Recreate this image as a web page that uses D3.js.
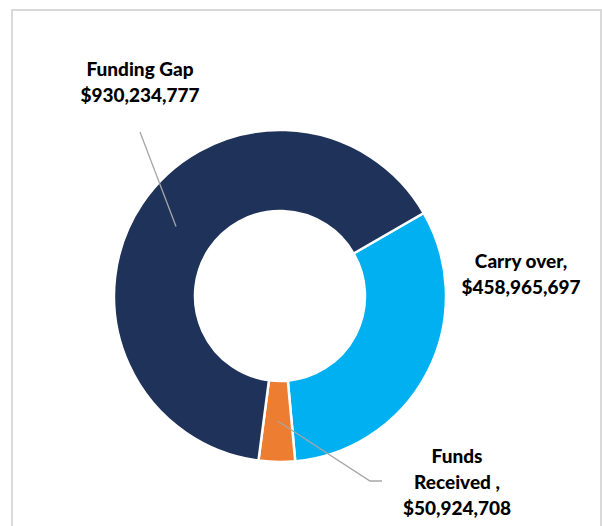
<!DOCTYPE html>
<html><head><meta charset="utf-8">
<script src="https://cdn.jsdelivr.net/npm/d3@7"></script>
<style>html,body{margin:0;padding:0;background:#fff;}svg{display:block;}</style>
</head><body>
<svg id="c" width="602" height="526"></svg>
<script>
const categories = ["Carry over", "Funds Received", "Funding Gap"];
const values = [458965697, 50924708, 930234777];
const labelLines = [["Carry over,", "$458,965,697"], ["Funds", "Received ,", "$50,924,708"], ["Funding Gap", "$930,234,777"]];
const colors = ["#00B0F0", "#ED7D31", "#1F3259"];

const svg = d3.select("#c");
svg.append("rect").attr("x", 12).attr("y", 10).attr("width", 589).attr("height", 530)
  .attr("fill", "#fff").attr("stroke", "#d9d9d9").attr("stroke-width", 2);

const cx = 280, cy = 296, R = 166, r = 85;
const start = 60 * Math.PI / 180;
const pie = d3.pie().sort(null).value(d => d.v).startAngle(start).endAngle(start + 2 * Math.PI);
const data = categories.map((c, i) => ({c, v: values[i], i}));
const arcs = pie(data);
const arc = d3.arc().innerRadius(r).outerRadius(R);
const mid = d3.arc().innerRadius(125).outerRadius(125);
const g = svg.append("g").attr("transform", `translate(${cx},${cy})`);
g.selectAll("path").data(arcs).join("path")
  .attr("d", arc).attr("fill", d => colors[d.data.i])
  .attr("stroke", "#fff").attr("stroke-width", 2.5).attr("stroke-linejoin", "round");

// label layout
const labelPos = [{x: 521, y: 268}, {x: 457, y: 463}, {x: 140, y: 76}];
const lineH = 26;
const font = "Lato, 'Open Sans', sans-serif";
labelLines.forEach((lines, i) => {
  const t = svg.append("text").attr("text-anchor", "middle")
    .attr("font-family", font).attr("font-weight", 900).attr("font-size", 19).attr("fill", "#000");
  lines.forEach((s, k) => t.append("tspan").attr("x", labelPos[i].x).attr("y", labelPos[i].y + k * lineH).text(s));
});

// leader lines
const cFG = mid.centroid(arcs[2]);
svg.append("polyline")
  .attr("points", `140,132 ${cx + cFG[0]},${cy + cFG[1]}`)
  .attr("fill", "none").attr("stroke", "#a6a6a6").attr("stroke-width", 1.3);
const cFR = mid.centroid(arcs[1]);
svg.append("polyline")
  .attr("points", `${cx + cFR[0]},${cy + cFR[1]} 370,481 382,481`)
  .attr("fill", "none").attr("stroke", "#a6a6a6").attr("stroke-width", 1.3);
</script>
</body></html>
